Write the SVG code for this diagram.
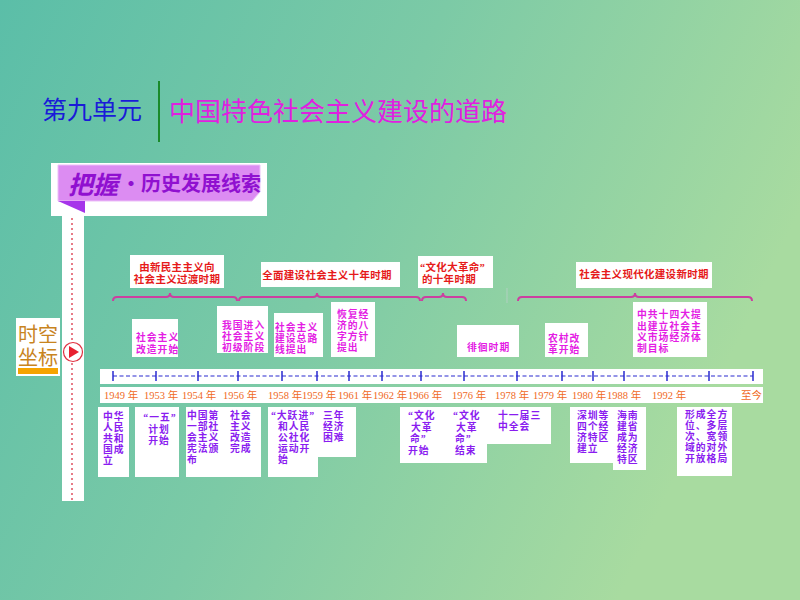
<svg xmlns="http://www.w3.org/2000/svg" width="800" height="600" viewBox="0 0 800 600">
<defs>
<linearGradient id="bg" x1="0" y1="0" x2="1" y2="0.35">
<stop offset="0" stop-color="#5bbea8"/>
<stop offset="0.5" stop-color="#7ccaa6"/>
<stop offset="1" stop-color="#a8dba0"/>
</linearGradient>
<style>
text{font-family:"Noto Sans CJK SC","Liberation Sans",sans-serif;}
.cjk{font-family:"Liberation Serif","Noto Sans CJK SC",serif;}
.box{fill:#ffffff;}
.per{font-family:"Liberation Serif","Noto Sans CJK SC",serif;font-size:10.5px;letter-spacing:0.3px;font-weight:bold;fill:#e61a1a;}
.mid{font-family:"Liberation Serif","Noto Sans CJK SC",serif;font-size:9.8px;letter-spacing:1px;font-weight:bold;fill:#e41de4;}
.bot{font-family:"Liberation Serif","Noto Sans CJK SC",serif;font-size:9.8px;letter-spacing:1px;font-weight:bold;fill:#8a1cf0;}
.yr{font-family:"Liberation Serif","Noto Sans CJK SC",serif;font-size:10.5px;fill:#f06a1e;}
.brace{fill:none;stroke:#cc3fa0;stroke-width:2;}
.tick{stroke:#2a2ad0;stroke-width:1.5;}
</style>
</defs>
<rect width="800" height="600" fill="url(#bg)"/>

<g id="title">
<text x="42" y="119" font-size="25" fill="#1a1ad8">第九单元</text>
<line x1="159" y1="81" x2="159" y2="142" stroke="#1a8a2a" stroke-width="2"/>
<text x="169" y="121" font-size="26" fill="#e020e0">中国特色社会主义建设的道路</text>
</g>

<g id="banner">
<rect x="51" y="163" width="216" height="53" fill="#ffffff"/>
<polygon points="58,165 260,165 260,192 252,201 58,201" fill="#dc8cf2" stroke="#ecc0f8" stroke-width="1"/>
<polygon points="58,201 85,201 85,213" fill="#a634ea"/>
<text x="68" y="194" font-size="25" font-weight="bold" font-style="italic" fill="#9010d0">把握<tspan font-size="20" font-style="normal" dx="3" dy="-3">·历史发展线索</tspan></text>
</g>

<g id="spine">
<rect x="62" y="216" width="22" height="285" fill="#ffffff"/>
<line x1="72" y1="218" x2="72" y2="500" stroke="#e05060" stroke-width="1.5" stroke-dasharray="2,3"/>
<circle cx="73" cy="352" r="9.5" fill="#ffffff" stroke="#e03040" stroke-width="1.2"/>
<polygon points="69,346 69,358 79,352" fill="#e82030"/>
</g>

<g id="coord">
<rect x="16" y="318" width="44" height="58" fill="#ffffff"/>
<text class="cjk" x="18" y="342" font-size="20" fill="#c8841e">时空<tspan x="18" dy="23">坐标</tspan></text>
<rect x="18" y="368" width="40" height="6" fill="#f5a300"/>
</g>

<g id="connectors">
<path class="brace" d="M113,301 Q113,297 117,297 L166,297 Q170,297 170,293 Q170,297 174,297 L233,297 Q237,297 237,301"/>
<path class="brace" d="M239,301 Q239,297 243,297 L313,297 Q317,297 317,293 Q317,297 321,297 L416,297 Q420,297 420,301"/>
<path class="brace" d="M422,301 Q422,297 426,297 L439,297 Q443,297 443,293 Q443,297 447,297 L462,297 Q466,297 466,301"/>
<path class="brace" d="M518,301 Q518,297 522,297 L631,297 Q635,297 635,293 Q635,297 639,297 L748,297 Q752,297 752,301"/>
<line x1="507" y1="288" x2="507" y2="303" stroke="#b0d0c0" stroke-width="1"/>
</g>

<g id="axis">
<rect x="100" y="369" width="663" height="15" fill="#ffffff"/>
<line x1="113" y1="376" x2="753" y2="376" stroke="#2a2ad0" stroke-width="1.2" stroke-dasharray="4,2.5"/>
<g class="tick">
<line x1="113" y1="371" x2="113" y2="381"/><line x1="156" y1="371" x2="156" y2="381"/><line x1="198" y1="371" x2="198" y2="381"/><line x1="238" y1="371" x2="238" y2="381"/><line x1="282" y1="371" x2="282" y2="381"/><line x1="317" y1="371" x2="317" y2="381"/><line x1="349" y1="371" x2="349" y2="381"/><line x1="382" y1="371" x2="382" y2="381"/><line x1="421" y1="371" x2="421" y2="381"/><line x1="464" y1="371" x2="464" y2="381"/><line x1="517" y1="371" x2="517" y2="381"/><line x1="562" y1="371" x2="562" y2="381"/><line x1="593" y1="371" x2="593" y2="381"/><line x1="624" y1="371" x2="624" y2="381"/><line x1="667" y1="371" x2="667" y2="381"/><line x1="709" y1="371" x2="709" y2="381"/><line x1="753" y1="371" x2="753" y2="381"/>
</g>
<rect x="100" y="387" width="663" height="16" fill="#ffffff"/>
<text class="yr" x="104" y="399">1949 年</text>
<text class="yr" x="144" y="399">1953 年</text>
<text class="yr" x="182" y="399">1954 年</text>
<text class="yr" x="223" y="399">1956 年</text>
<text class="yr" x="268" y="399">1958 年</text>
<text class="yr" x="302" y="399">1959 年</text>
<text class="yr" x="338" y="399">1961 年</text>
<text class="yr" x="373" y="399">1962 年</text>
<text class="yr" x="408" y="399">1966 年</text>
<text class="yr" x="452" y="399">1976 年</text>
<text class="yr" x="495" y="399">1978 年</text>
<text class="yr" x="533" y="399">1979 年</text>
<text class="yr" x="572" y="399">1980 年</text>
<text class="yr" x="607" y="399">1988 年</text>
<text class="yr" x="652" y="399">1992 年</text>
<text class="yr" x="741" y="399">至今</text>
</g>

<g id="period1"><rect class="box" x="130" y="255" width="94" height="33"/>
<text class="per" x="177" y="271" text-anchor="middle">由新民主主义向<tspan x="177" dy="12">社会主义过渡时期</tspan></text></g>
<g id="period2"><rect class="box" x="261" y="262" width="139" height="25"/>
<text class="per" x="327" y="279" text-anchor="middle">全面建设社会主义十年时期</text></g>
<g id="period3"><rect class="box" x="418" y="256" width="75" height="32"/>
<text class="per" x="420" y="271">“文化大革命”<tspan x="422" dy="12">的十年时期</tspan></text></g>
<g id="period4"><rect class="box" x="576" y="262" width="136" height="26"/>
<text class="per" x="644" y="278" text-anchor="middle">社会主义现代化建设新时期</text></g>

<g id="m1"><rect class="box" x="132" y="319" width="46" height="38"/>
<text class="mid" x="136" y="341">社会主义<tspan x="136" dy="12">改造开始</tspan></text></g>
<g id="m2"><rect class="box" x="217" y="306" width="51" height="47"/>
<text class="mid" x="222" y="329">我国进入<tspan x="222" dy="11">社会主义</tspan><tspan x="222" dy="11">初级阶段</tspan></text></g>
<g id="m3"><rect class="box" x="274" y="313" width="49" height="44"/>
<text class="mid" x="275" y="331">社会主义<tspan x="275" dy="11">建设总路</tspan><tspan x="275" dy="11">线提出</tspan></text></g>
<g id="m4"><rect class="box" x="331" y="302" width="44" height="55"/>
<text class="mid" x="337" y="318">恢复经<tspan x="337" dy="11">济的八</tspan><tspan x="337" dy="11">字方针</tspan><tspan x="337" dy="11">提出</tspan></text></g>
<g id="m5"><rect class="box" x="457" y="325" width="62" height="32"/>
<text class="mid" x="467" y="351">徘徊时期</text></g>
<g id="m6"><rect class="box" x="545" y="323" width="43" height="34"/>
<text class="mid" x="548" y="342">农村改<tspan x="548" dy="11">革开始</tspan></text></g>
<g id="m7"><rect class="box" x="633" y="302" width="74" height="55"/>
<text class="mid" x="637" y="318">中共十四大提<tspan x="637" dy="11.5">出建立社会主</tspan><tspan x="637" dy="11">义市场经济体</tspan><tspan x="637" dy="11">制目标</tspan></text></g>

<g id="b1"><rect class="box" x="98" y="407" width="31" height="70"/>
<text class="bot" x="103" y="420">中华<tspan x="103" dy="11">人民</tspan><tspan x="103" dy="11">共和</tspan><tspan x="103" dy="11">国成</tspan><tspan x="103" dy="11">立</tspan></text></g>
<g id="b2"><rect class="box" x="135" y="407" width="44" height="70"/>
<text class="bot" x="160" y="421" text-anchor="middle">“一五”<tspan x="159" dy="11.5">计划</tspan><tspan x="159" dy="11.5">开始</tspan></text></g>
<g id="b3"><rect class="box" x="186" y="407" width="75" height="70"/>
<text class="bot" x="187" y="419">中国第<tspan x="187" dy="11">一部社</tspan><tspan x="187" dy="11">会主义</tspan><tspan x="187" dy="11">宪法颁</tspan><tspan x="187" dy="11">布</tspan></text>
<text class="bot" x="230" y="419">社会<tspan x="230" dy="11">主义</tspan><tspan x="230" dy="11">改造</tspan><tspan x="230" dy="11">完成</tspan></text></g>
<g id="b4"><rect class="box" x="268" y="407" width="50" height="70"/><rect class="box" x="318" y="407" width="38" height="50"/>
<text class="bot" x="293" y="419" text-anchor="middle">“大跃进”<tspan x="278" dy="11" text-anchor="start">和人民</tspan><tspan x="278" dy="11" text-anchor="start">公社化</tspan><tspan x="278" dy="11" text-anchor="start">运动开</tspan><tspan x="278" dy="11" text-anchor="start">始</tspan></text>
<text class="bot" x="323" y="419">三年<tspan x="323" dy="11">经济</tspan><tspan x="323" dy="11">困难</tspan></text></g>
<g id="b5"><rect class="box" x="400" y="407" width="87" height="56"/><rect class="box" x="487" y="407" width="64" height="37"/>
<text class="bot" x="408" y="419">“文化<tspan x="411" dy="12">大革</tspan><tspan x="410" dy="11">命”</tspan><tspan x="408" dy="12">开始</tspan></text>
<text class="bot" x="453" y="419">“文化<tspan x="456" dy="12">大革</tspan><tspan x="455" dy="11">命”</tspan><tspan x="455" dy="12">结束</tspan></text>
<text class="bot" x="498" y="419">十一届三<tspan x="498" dy="11">中全会</tspan></text></g>
<g id="b6"><rect class="box" x="570" y="407" width="43" height="56"/><rect class="box" x="613" y="407" width="33" height="63"/>
<text class="bot" x="577" y="419">深圳等<tspan x="577" dy="11">四个经</tspan><tspan x="577" dy="11">济特区</tspan><tspan x="577" dy="11">建立</tspan></text>
<text class="bot" x="617" y="419">海南<tspan x="617" dy="11">建省</tspan><tspan x="617" dy="11">成为</tspan><tspan x="617" dy="11">经济</tspan><tspan x="617" dy="11">特区</tspan></text></g>
<g id="b7"><rect class="box" x="677" y="407" width="55" height="69"/>
<text class="bot" x="685" y="418">形成全方<tspan x="685" dy="11">位、多层</tspan><tspan x="685" dy="11">次、宽领</tspan><tspan x="685" dy="11">域的对外</tspan><tspan x="685" dy="11">开放格局</tspan></text></g>
</svg>
